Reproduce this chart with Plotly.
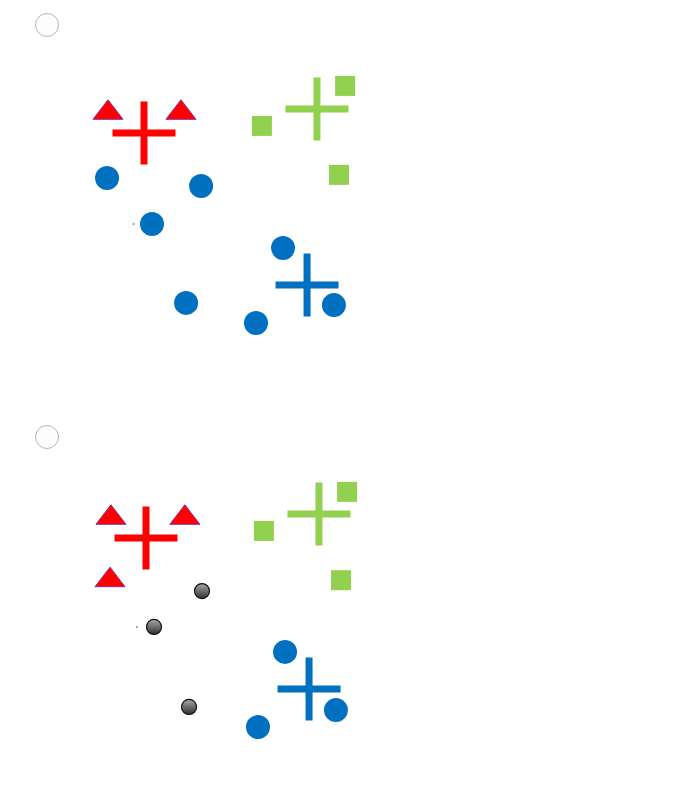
import plotly.graph_objects as go

# ---- data (feature units, per panel) ----
# Panel A (top)
a_red_x = [1.5, 3.78]
a_red_y = [7.85, 7.85]
a_green_x = [6.31, 8.91, 8.72]
a_green_y = [7.44, 8.69, 5.91]
a_blue_x = [1.47, 4.41, 2.875, 6.97, 3.94, 6.125, 8.56]
a_blue_y = [5.81, 5.56, 4.375, 3.625, 1.91, 1.28, 1.84]
a_cent_x = [2.625, 8.03, 7.72]
a_cent_y = [7.22, 7.97, 2.47]
a_dot_x = [2.3]
a_dot_y = [4.375]

# Panel B (bottom)
b_red_x = [1.53, 3.84, 1.5]
b_red_y = [7.85, 7.85, 5.9]
b_green_x = [6.31, 8.91, 8.72]
b_green_y = [7.44, 8.66, 5.9]
b_gray_x = [4.375, 2.875, 3.97]
b_gray_y = [5.56, 4.44, 1.94]
b_blue_x = [6.97, 6.125, 8.56]
b_blue_y = [3.66, 1.31, 1.84]
b_cent_x = [2.625, 8.03, 7.72]
b_cent_y = [7.22, 7.97, 2.5]
b_dot_x = [2.34]
b_dot_y = [4.44]

RED = "#FF0000"
GREEN = "#92D050"
BLUE = "#0070C0"
cent_colors = [RED, GREEN, BLUE]

W, H = 676, 786
fig = go.Figure()


def add_panel(fig, xa, ya, red, green, blue, cent, dot, gray=None):
    common = dict(xaxis=xa, yaxis=ya, mode="markers", showlegend=False,
                  hoverinfo="skip", cliponaxis=False)
    fig.add_trace(go.Scatter(x=dot[0], y=dot[1],
                             marker=dict(size=2, color="#8a8a8a"), **common))
    fig.add_trace(go.Scatter(x=green[0], y=green[1],
                             marker=dict(symbol="square", size=20, color=GREEN,
                                         line=dict(width=0)), **common))
    fig.add_trace(go.Scatter(x=cent[0], y=cent[1],
                             marker=dict(symbol="cross-thin", size=45,
                                         line=dict(width=7, color=cent_colors)), **common))
    fig.add_trace(go.Scatter(x=blue[0], y=blue[1],
                             marker=dict(symbol="circle", size=24, color=BLUE,
                                         line=dict(width=0)), **common))
    if gray is not None:
        fig.add_trace(go.Scatter(x=gray[0], y=gray[1],
                                 marker=dict(symbol="circle", size=15, color="#a8a8a8",
                                             gradient=dict(type="vertical", color="#303030"),
                                             line=dict(width=1.2, color="#111111")), **common))
    fig.add_trace(go.Scatter(x=red[0], y=red[1],
                             marker=dict(symbol="triangle-up", size=26, color=RED,
                                         line=dict(width=1, color="#8E2A9E")), **common))


add_panel(fig, "x", "y",
          (a_red_x, a_red_y), (a_green_x, a_green_y), (a_blue_x, a_blue_y),
          (a_cent_x, a_cent_y), (a_dot_x, a_dot_y))
add_panel(fig, "x2", "y2",
          (b_red_x, b_red_y), (b_green_x, b_green_y), (b_blue_x, b_blue_y),
          (b_cent_x, b_cent_y), (b_dot_x, b_dot_y), gray=(b_gray_x, b_gray_y))

ax = dict(visible=False, range=[0, 10], fixedrange=True)
fig.update_layout(
    width=W, height=H,
    margin=dict(l=0, r=0, t=0, b=0),
    paper_bgcolor="white", plot_bgcolor="white",
    xaxis=dict(ax, domain=[60 / W, 380 / W], anchor="y"),
    yaxis=dict(ax, domain=[1 - 364 / H, 1 - 44 / H], anchor="x"),
    xaxis2=dict(ax, domain=[62 / W, 382 / W], anchor="y2"),
    yaxis2=dict(ax, domain=[1 - 769 / H, 1 - 449 / H], anchor="x2"),
)

# radio buttons
for cx, cy in [(47, 25), (47, 437)]:
    r = 11.5
    fig.add_shape(type="circle", xref="paper", yref="paper",
                  x0=(cx - r) / W, x1=(cx + r) / W,
                  y0=1 - (cy + r) / H, y1=1 - (cy - r) / H,
                  line=dict(color="#b5b5b5", width=1), fillcolor="#fdfdfd")

fig.write_html("out.html")
